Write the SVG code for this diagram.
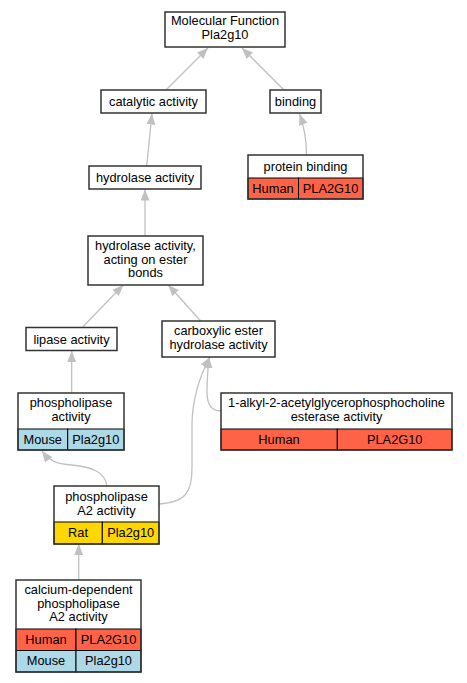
<svg xmlns="http://www.w3.org/2000/svg" width="467" height="683" viewBox="0 0 467 683">
<defs>
<style>
text{font-family:"Liberation Sans",Arial,sans-serif;font-size:12.8px;fill:#000;text-anchor:middle}
.box{fill:#fff;stroke:#333;stroke-width:1.5}
.cell{stroke:#000;stroke-width:1}
.human{fill:#ff6347}
.mouse{fill:#add8e6}
.rat{fill:#ffd700}
.edge{fill:none;stroke:#c0c0c0;stroke-width:1.3}
</style>
<marker id="arr" markerUnits="userSpaceOnUse" markerWidth="12" markerHeight="10" refX="11" refY="4.5" orient="auto">
<path d="M0,0 L11,4.5 L0,9 z" fill="#c0c0c0"/>
</marker>
</defs>
<rect width="467" height="683" fill="#fff"/>
<g id="edges">
<path class="edge" marker-end="url(#arr)" d="M166,90 L208,48"/>
<path class="edge" marker-end="url(#arr)" d="M284,90 L242,48"/>
<path class="edge" marker-end="url(#arr)" d="M306.5,155 C306.5,140 304,126 299.5,114"/>
<path class="edge" marker-end="url(#arr)" d="M146.7,166 L152,113.5"/>
<path class="edge" marker-end="url(#arr)" d="M145,236 L145,189.5"/>
<path class="edge" marker-end="url(#arr)" d="M82.7,327 L123.3,285"/>
<path class="edge" marker-end="url(#arr)" d="M200.7,321 L168.3,285"/>
<path class="edge" marker-end="url(#arr)" d="M71.7,393 L71.7,351"/>
<path class="edge" marker-end="url(#arr)" d="M221,411 C210,411 207,403 207,392 C207,380 208,368 209,357"/>
<path class="edge" marker-end="url(#arr)" d="M159,504 C186,502 192,492 192,468 L192,425 C192,400 200,375 210,357"/>
<path class="edge" marker-end="url(#arr)" d="M107,486 C105,472 92,467 72,465 C60,464 51,463 42,451"/>
<path class="edge" marker-end="url(#arr)" d="M78.7,580 L78.7,544"/>
</g>
<g id="mf">
<rect class="box" x="165" y="12" width="120" height="35"/>
<text x="225" y="25.4">Molecular Function</text>
<text x="225" y="39.2">Pla2g10</text>
</g>
<g id="catalytic">
<rect class="box" x="101" y="90" width="105" height="23"/>
<text x="153.5" y="106">catalytic activity</text>
</g>
<g id="binding">
<rect class="box" x="270" y="90" width="51" height="23"/>
<text x="295.5" y="106">binding</text>
</g>
<g id="hydrolase">
<rect class="box" x="89" y="166" width="112" height="23"/>
<text x="145" y="182">hydrolase activity</text>
</g>
<g id="protein-binding">
<rect class="cell human" x="248" y="178" width="50.5" height="21"/>
<rect class="cell human" x="298.5" y="178" width="64.5" height="21"/>
<rect class="box" x="248" y="155" width="115" height="44" style="fill:none"/>
<text x="305.5" y="171">protein binding</text>
<text x="273" y="193">Human</text>
<text x="330.5" y="193">PLA2G10</text>
</g>
<g id="hydrolase-ester">
<rect class="box" x="88" y="236" width="115" height="49"/>
<text x="145.5" y="250">hydrolase activity,</text>
<text x="145.5" y="263.5">acting on ester</text>
<text x="145.5" y="277">bonds</text>
</g>
<g id="lipase">
<rect class="box" x="26" y="327.5" width="91" height="23"/>
<text x="71.5" y="343.5">lipase activity</text>
</g>
<g id="carboxylic">
<rect class="box" x="162" y="321" width="113" height="36"/>
<text x="218.5" y="335">carboxylic ester</text>
<text x="218.5" y="349">hydrolase activity</text>
</g>
<g id="phospholipase">
<rect class="cell mouse" x="18" y="429" width="49.7" height="21"/>
<rect class="cell mouse" x="67.7" y="429" width="56.3" height="21"/>
<rect class="box" x="18" y="393" width="106" height="57" style="fill:none"/>
<text x="71" y="406.5">phospholipase</text>
<text x="71" y="421">activity</text>
<text x="42.8" y="443.5">Mouse</text>
<text x="95.8" y="443.5">Pla2g10</text>
</g>
<g id="alkyl">
<rect class="cell human" x="221" y="429" width="116.3" height="21"/>
<rect class="cell human" x="337.3" y="429" width="114.7" height="21"/>
<rect class="box" x="221" y="393" width="231" height="57" style="fill:none"/>
<text x="336.5" y="406.5">1-alkyl-2-acetylglycerophosphocholine</text>
<text x="336.5" y="421">esterase activity</text>
<text x="279" y="443.5">Human</text>
<text x="394.7" y="443.5">PLA2G10</text>
</g>
<g id="pla2">
<rect class="cell rat" x="54" y="522" width="48.3" height="22"/>
<rect class="cell rat" x="102.3" y="522" width="56.7" height="22"/>
<rect class="box" x="54" y="486" width="105" height="58" style="fill:none"/>
<text x="106.5" y="501">phospholipase</text>
<text x="106.5" y="514.5">A2 activity</text>
<text x="78" y="536.5">Rat</text>
<text x="130.7" y="536.5">Pla2g10</text>
</g>
<g id="calcium">
<rect class="cell human" x="16" y="629" width="60" height="21.5"/>
<rect class="cell human" x="76" y="629" width="65" height="21.5"/>
<rect class="cell mouse" x="16" y="650.5" width="60" height="21.5"/>
<rect class="cell mouse" x="76" y="650.5" width="65" height="21.5"/>
<rect class="box" x="16" y="580" width="125" height="92" style="fill:none"/>
<text x="78.5" y="594">calcium-dependent</text>
<text x="78.5" y="607.5">phospholipase</text>
<text x="78.5" y="621">A2 activity</text>
<text x="46" y="643.5">Human</text>
<text x="108.5" y="643.5">PLA2G10</text>
<text x="46" y="664.5">Mouse</text>
<text x="108.5" y="664.5">Pla2g10</text>
</g>
</svg>
